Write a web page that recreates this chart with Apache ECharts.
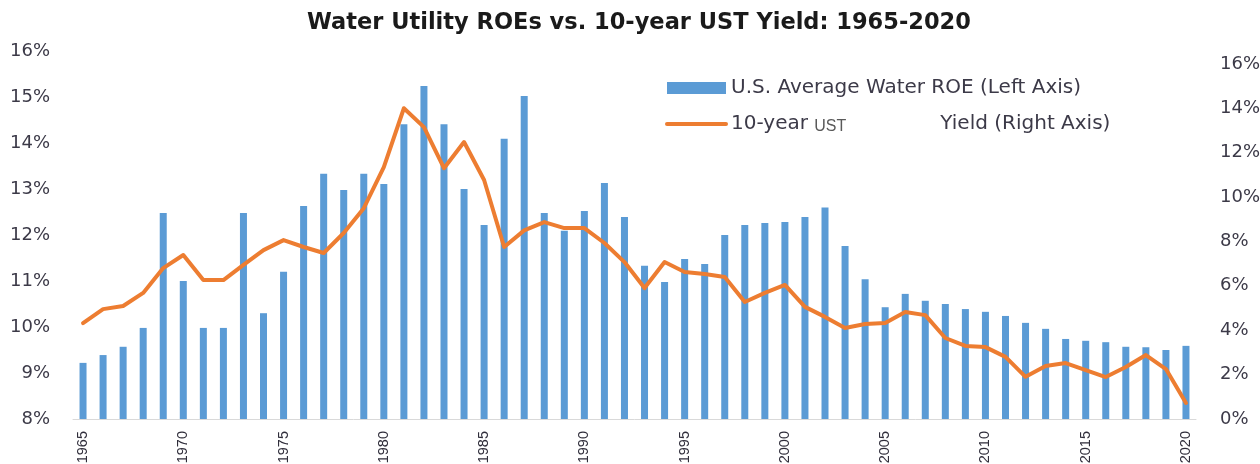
<!DOCTYPE html>
<html>
<head>
<meta charset="utf-8">
<script src="https://cdn.jsdelivr.net/npm/echarts@6/dist/echarts.min.js"></script>
<style>
html,body{margin:0;padding:0;background:#fff;}
#chart{width:1260px;height:464px;}
</style>
</head>
<body>
<div id="chart"></div>
<script>
const years = ['1965','1966','1967','1968','1969','1970','1971','1972','1973','1974',
  '1975','1976','1977','1978','1979','1980','1981','1982','1983','1984',
  '1985','1986','1987','1988','1989','1990','1991','1992','1993','1994',
  '1995','1996','1997','1998','1999','2000','2001','2002','2003','2004',
  '2005','2006','2007','2008','2009','2010','2011','2012','2013','2014',
  '2015','2016','2017','2018','2019','2020'];

const waterROE = [9.22, 9.39, 9.57, 9.98, 12.48, 11.0, 9.98, 9.98, 12.48, 10.3,
  11.2, 12.63, 13.33, 12.98, 13.33, 13.11, 14.41, 15.24, 14.41, 13.0,
  12.22, 14.09, 15.02, 12.48, 12.09, 12.52, 13.13, 12.39, 11.33, 10.98,
  11.48, 11.37, 12.0, 12.22, 12.26, 12.28, 12.39, 12.6, 11.76, 11.04,
  10.43, 10.72, 10.57, 10.5, 10.39, 10.33, 10.24, 10.09, 9.96, 9.74,
  9.7, 9.67, 9.57, 9.56, 9.5, 9.59];

const ustYield = [4.32, 4.95, 5.09, 5.68, 6.8, 7.39, 6.26, 6.26, 6.94, 7.61,
  8.06, 7.75, 7.48, 8.38, 9.5, 11.35, 14.0, 13.15, 11.3, 12.48,
  10.77, 7.75, 8.5, 8.87, 8.6, 8.6, 7.93, 7.07, 5.9, 7.07,
  6.62, 6.53, 6.4, 5.27, 5.68, 6.04, 5.05, 4.6, 4.1, 4.28,
  4.32, 4.82, 4.68, 3.65, 3.29, 3.24, 2.8, 1.9, 2.39, 2.52,
  2.2, 1.89, 2.34, 2.88, 2.25, 0.72];

const titleText = 'Water Utility ROEs vs. 10-year UST Yield: 1965-2020';
const barName = 'U.S. Average Water ROE (Left Axis)';
const lineName = '10-year UST Yield (Right Axis)';

const textColor = '#3c3a48';
const chart = echarts.init(document.getElementById('chart'));
chart.setOption({
  animation: false,
  backgroundColor: '#fff',
  title: {
    text: titleText,
    left: 302,
    top: 7,
    textStyle: { fontFamily: 'DejaVu Sans', fontWeight: 'bold', fontSize: 22.5, color: '#1a1a1a' }
  },
  legend: {
    orient: 'vertical',
    left: 665,
    top: 77,
    padding: 0,
    itemWidth: 59,
    itemHeight: 12,
    itemGap: 14,
    data: [
      { name: barName, icon: 'rect' },
      { name: lineName, itemStyle: { opacity: 0 }, lineStyle: { width: 4 } }
    ],
    formatter: function (name) {
      if (name === lineName) {
        return '{a|10-year }{u|UST}{s|}{a|Yield (Right Axis)}';
      }
      return name;
    },
    textStyle: {
      fontFamily: 'DejaVu Sans',
      fontSize: 20,
      lineHeight: 22,
      color: textColor,
      rich: {
        a: { fontFamily: 'DejaVu Sans', fontSize: 20, lineHeight: 22, color: textColor },
        u: { fontFamily: 'Liberation Sans', fontSize: 16, lineHeight: 22, color: '#595959', verticalAlign: 'bottom', padding: [4, 0, 0, 0] },
        s: { width: 94, lineHeight: 22 }
      }
    }
  },
  grid: {
    left: 73,
    right: 64,
    top: 51,
    bottom: 45,
    outerBoundsMode: 'none'
  },
  xAxis: {
    type: 'category',
    data: years,
    boundaryGap: true,
    axisLine: { show: true, lineStyle: { color: '#d9d9d9', width: 1 } },
    axisTick: { show: false },
    axisLabel: {
      interval: 4,
      rotate: 90,
      margin: 12,
      fontFamily: 'Liberation Sans',
      fontSize: 14.5,
      color: '#2f2d3a'
    },
    splitLine: { show: false }
  },
  yAxis: [
    {
      type: 'value',
      min: 8,
      max: 16,
      interval: 1,
      axisLine: { show: false },
      axisTick: { show: false },
      splitLine: { show: false },
      axisLabel: {
        formatter: '{value}%',
        margin: 23,
        fontFamily: 'DejaVu Sans',
        fontSize: 18,
        color: textColor
      }
    },
    {
      type: 'value',
      min: 0,
      max: 16.58,
      interval: 2,
      position: 'right',
      axisLine: { show: false },
      axisTick: { show: false },
      splitLine: { show: false },
      axisLabel: {
        formatter: function (v) {
          return Math.abs(v % 2) < 1e-9 ? v + '%' : '';
        },
        margin: 24,
        fontFamily: 'DejaVu Sans',
        fontSize: 18,
        color: textColor
      }
    }
  ],
  series: [
    {
      name: barName,
      type: 'bar',
      data: waterROE,
      yAxisIndex: 0,
      barWidth: 7,
      itemStyle: { color: '#5B9BD5' }
    },
    {
      name: lineName,
      type: 'line',
      data: ustYield,
      yAxisIndex: 1,
      symbol: 'none',
      lineStyle: { color: '#ED7D31', width: 4, join: 'round', cap: 'round' },
      itemStyle: { color: '#ED7D31' }
    }
  ]
});
</script>
</body>
</html>
